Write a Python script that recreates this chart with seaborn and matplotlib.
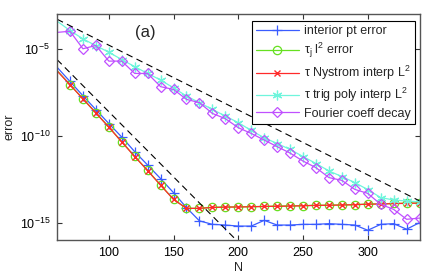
import numpy as np
import pandas as pd
import matplotlib
matplotlib.use("Agg")
import matplotlib.pyplot as plt
import seaborn as sns

# ---------------- data (log10 of error) ----------------
N = [60, 70, 80, 90, 100, 110, 120, 130, 140, 150, 160, 170, 180, 190, 200,
     210, 220, 230, 240, 250, 260, 270, 280, 290, 300, 310, 320, 330, 340]

interior_log = [-6.06, -6.88, -7.70, -8.50, -9.30, -10.08, -10.92, -11.69, -12.47, -13.28,
                -14.14, -14.90, -15.10, -15.14, -15.20, -15.20, -14.87, -15.14, -15.14, -15.10,
                -15.10, -15.06, -15.10, -15.14, -15.44, -15.10, -15.06, -15.38, -15.00]

tauj_log = [-6.25, -7.06, -7.87, -8.68, -9.50, -10.35, -11.19, -12.00, -12.84, -13.66,
            -14.18, -14.18, -14.12, -14.10, -14.10, -14.08, -14.07, -14.05, -14.04, -14.03,
            -14.00, -14.00, -13.98, -13.97, -13.93, -13.92, -13.90, -13.88, -13.87]

nystrom_log = [-6.27, -7.07, -7.88, -8.69, -9.51, -10.36, -11.20, -12.01, -12.85, -13.67,
               -14.18, -14.18, -14.13, -14.11, -14.10, -14.09, -14.07, -14.06, -14.05, -14.03,
               -14.01, -14.00, -13.99, -13.97, -13.94, -13.93, -13.91, -13.89, -13.88]

trig_log = [-3.41, -3.95, -4.43, -4.82, -5.20, -5.62, -6.03, -6.42, -6.80, -7.25,
            -7.72, -8.10, -8.49, -8.87, -9.25, -9.70, -10.12, -10.45, -10.79, -11.20,
            -11.60, -12.03, -12.35, -12.70, -13.10, -13.56, -13.70, -13.76, -13.80]

fourier_log = [-4.06, -3.99, -5.00, -4.81, -5.71, -5.71, -6.42, -6.42, -7.18, -7.34,
               -7.91, -8.10, -8.72, -9.02, -9.54, -9.87, -10.25, -10.63, -11.00, -11.46,
               -11.84, -12.41, -12.57, -13.09, -13.32, -13.95, -14.24, -14.81, -14.74]

# reference slopes (dashed guide lines)
guide1_N = [60, 340]
guide1_log = [-3.30, -13.75]
guide2_N = [60, 200]
guide2_log = [-5.62, -16.12]

labels = ["interior pt error",
          "τ$_\\mathregular{j}$ l$^\\mathregular{2}$ error",
          "τ Nystrom interp L$^\\mathregular{2}$",
          "τ trig poly interp L$^\\mathregular{2}$",
          "Fourier coeff decay"]

# ---------------- style ----------------
sns.set_style("ticks")
plt.rcParams["font.family"] = ["Liberation Sans", "DejaVu Sans"]
plt.rcParams["mathtext.fontset"] = "custom"
plt.rcParams["mathtext.rm"] = "Liberation Sans"
plt.rcParams["mathtext.it"] = "Liberation Sans:italic"
plt.rcParams["mathtext.bf"] = "Liberation Sans:bold"

fig = plt.figure(figsize=(4.29, 2.75), dpi=100)
ax = fig.add_axes([0.1329, 0.1273, 0.8451, 0.8218])

Narr = np.array(N)
series = [
    (interior_log, "#3a5cff", "+", dict(markersize=7, markeredgewidth=0.9)),
    (tauj_log, "#66e020", "o", dict(markersize=6, markerfacecolor="none", markeredgewidth=0.9)),
    (nystrom_log, "#ff2a2a", "x", dict(markersize=5, markeredgewidth=1.0)),
    (trig_log, "#6ff5dc", (6, 2, 0), dict(markersize=7, markeredgewidth=0.9)),
    (fourier_log, "#c050ff", "D", dict(markersize=5.5, markerfacecolor="none", markeredgewidth=0.9)),
]
for (vals, col, mk, kw), lab in zip(series, labels):
    df = pd.DataFrame({"N": Narr, "err": 10.0 ** np.array(vals)})
    sns.lineplot(data=df, x="N", y="err", ax=ax, color=col, marker=mk,
                 linewidth=0.9, label=lab, markevery=slice(1, None),
                 markeredgecolor=col, **kw)

for gx, gy in [(guide1_N, guide1_log), (guide2_N, guide2_log)]:
    gdf = pd.DataFrame({"N": gx, "err": 10.0 ** np.array(gy)})
    sns.lineplot(data=gdf, x="N", y="err", ax=ax, color="black",
                 linewidth=0.8, linestyle=(0, (6, 4)), label="_nolegend_")

ax.set_yscale("log")
ax.set_xlim(60, 340)
ax.set_ylim(1e-16, 1e-3)
ax.set_xticks([100, 150, 200, 250, 300])
ax.set_yticks([1e-15, 1e-10, 1e-5])
ax.set_yticklabels([r"$\mathregular{10^{-15}}$", r"$\mathregular{10^{-10}}$", r"$\mathregular{10^{-5}}$"])
ax.yaxis.set_minor_locator(matplotlib.ticker.NullLocator())
ax.tick_params(direction="in", length=3.5, width=0.8, labelsize=9, top=True, right=True,
               colors="#333333", labelcolor="black", pad=5)
for s in ax.spines.values():
    s.set_color("#555555")
    s.set_linewidth(1.0)
    s.set_visible(True)

ax.set_xlabel("N", fontsize=9, labelpad=2)
ax.set_ylabel("error", fontsize=9, labelpad=3)
ax.text(0.243, 0.916, "(a)", transform=ax.transAxes, fontsize=12, ha="center", va="center")

leg = ax.legend(loc="upper right", bbox_to_anchor=(0.987, 0.97), borderaxespad=0,
                fontsize=9, frameon=True, fancybox=False, framealpha=1,
                edgecolor="black", handlelength=3.4, labelspacing=0.3,
                handletextpad=0.4, borderpad=0.35)
leg.get_frame().set_linewidth(0.8)

fig.savefig("out.png", dpi=100)
